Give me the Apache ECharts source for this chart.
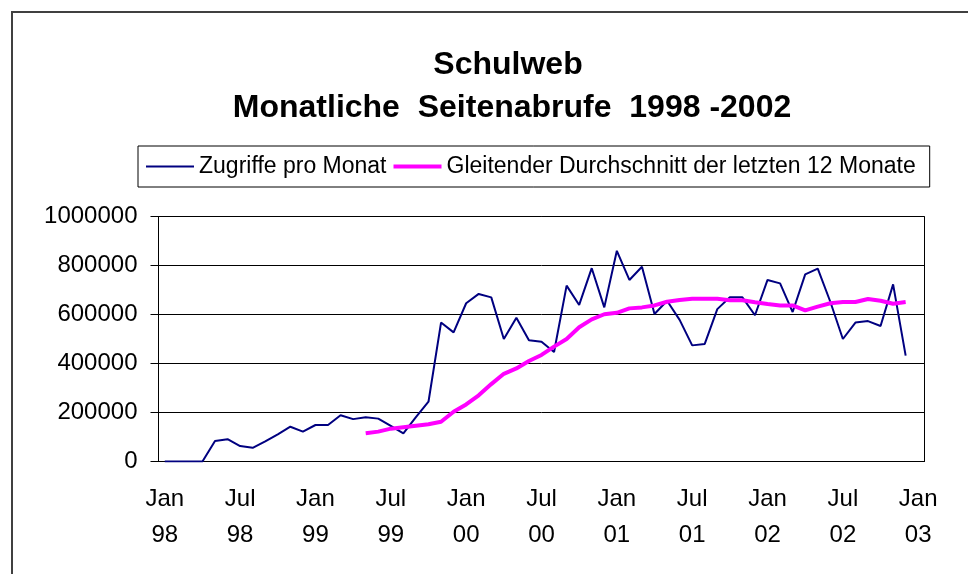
<!DOCTYPE html>
<html>
<head>
<meta charset="utf-8">
<script src="https://cdn.jsdelivr.net/npm/echarts@6/dist/echarts.min.js"></script>
<style>
  html, body { margin: 0; padding: 0; background: #fff; }
  #chart { width: 968px; height: 574px; }
</style>
</head>
<body>
<div id="chart"></div>
<script>
// Monatsnamen und Jahre fuer die Kategorien (Jan 98 .. Jan 03)
var monate = ['Jan', 'Feb', 'Mär', 'Apr', 'Mai', 'Jun', 'Jul', 'Aug', 'Sep', 'Okt', 'Nov', 'Dez'];
var jahre = ['98', '99', '00', '01', '02', '03'];

// Zugriffe pro Monat, Jan 98 .. Dez 02
var zugriffe = [
  0, 0, 0, 0, 84000, 91000, 63000, 56000, 82000, 111000, 142000, 122000,
  149000, 149000, 189000, 173000, 181000, 175000, 145000, 115000, 181000, 244000, 567000, 527000,
  646000, 684000, 670000, 500000, 587000, 495000, 489000, 447000, 718000, 639000, 789000, 629000,
  860000, 741000, 795000, 602000, 656000, 578000, 474000, 480000, 622000, 670000, 670000, 597000,
  741000, 727000, 610000, 764000, 787000, 652000, 500000, 567000, 573000, 553000, 723000, 432000
];

// Gleitender Durchschnitt der letzten 12 Monate
var durchschnitt = [
  null, null, null, null, null, null, null, null, null, null, null, null,
  null, null, null, null, 115000, 122000, 134000, 140000, 146000, 152000, 162000, 203000,
  233000, 270000, 316000, 358000, 380000, 410000, 435000, 469000, 500000, 548000, 580000, 601000,
  607000, 625000, 629000, 637000, 652000, 659000, 664000, 664000, 664000, 658000, 658000, 650000,
  643000, 637000, 637000, 617000, 632000, 646000, 651000, 651000, 663000, 656000, 644000, 651000
];

var kategorien = [];
jahre.forEach(function (j) {
  monate.forEach(function (m) {
    if (kategorien.length < 61) kategorien.push(m + '\n' + j);
  });
});

var schrift = '"Liberation Sans", Arial, sans-serif';

var myChart = echarts.init(document.getElementById('chart'));
var option = {
  backgroundColor: '#fff',
  animation: false,
  graphic: [
    {
      type: 'rect',
      shape: { x: 12, y: 12, width: 1000, height: 1000 },
      style: { fill: 'none', stroke: '#404040', lineWidth: 2 }
    },
    {
      type: 'text',
      x: 508, y: 65,
      style: {
        text: 'Schulweb',
        font: 'bold 32px ' + schrift,
        fill: '#000',
        textAlign: 'center',
        textVerticalAlign: 'middle'
      }
    },
    {
      type: 'text',
      x: 512, y: 108,
      style: {
        text: 'Monatliche  Seitenabrufe  1998 -2002',
        font: 'bold 32px ' + schrift,
        fill: '#000',
        textAlign: 'center',
        textVerticalAlign: 'middle'
      }
    }
  ],
  legend: {
    left: 138,
    top: 146,
    padding: [9, 14, 9, 8],
    itemWidth: 48,
    itemHeight: 14,
    itemGap: 7,
    borderColor: '#000',
    borderWidth: 1,
    textStyle: { fontFamily: schrift, fontSize: 23, color: '#000' },
    data: [
      { name: 'Zugriffe pro Monat', icon: 'path://M0,0L48,0L48,2L0,2Z' },
      { name: 'Gleitender Durchschnitt der letzten 12 Monate', icon: 'path://M0,0L48,0L48,4L0,4Z' }
    ]
  },
  grid: {
    left: 158.5,
    right: 43.5,
    top: 216.5,
    bottom: 112.5,
    show: true,
    borderColor: '#000',
    borderWidth: 1,
    containLabel: false
  },
  xAxis: {
    type: 'category',
    data: kategorien,
    boundaryGap: true,
    axisLine: { lineStyle: { color: '#000', width: 1 } },
    axisTick: { interval: 5, length: 7, lineStyle: { color: '#000' } },
    axisLabel: {
      interval: 5,
      margin: 20,
      fontFamily: schrift,
      fontSize: 24,
      lineHeight: 36,
      color: '#000'
    },
    splitLine: { show: false }
  },
  yAxis: {
    type: 'value',
    min: 0,
    max: 1000000,
    interval: 200000,
    axisLine: { show: true, lineStyle: { color: '#000', width: 1 } },
    axisTick: { show: true, length: 8, lineStyle: { color: '#000' } },
    axisLabel: {
      margin: 21,
      fontFamily: schrift,
      fontSize: 24,
      color: '#000',
      formatter: function (v) { return String(v); }
    },
    splitLine: { lineStyle: { color: '#000', width: 1 } }
  },
  series: [
    {
      name: 'Zugriffe pro Monat',
      type: 'line',
      data: zugriffe,
      symbol: 'none',
      lineStyle: { color: '#000080', width: 2 },
      itemStyle: { color: '#000080' }
    },
    {
      name: 'Gleitender Durchschnitt der letzten 12 Monate',
      type: 'line',
      data: durchschnitt,
      symbol: 'none',
      connectNulls: false,
      lineStyle: { color: '#ff00ff', width: 4 },
      itemStyle: { color: '#ff00ff' }
    }
  ]
};
myChart.setOption(option);
</script>
</body>
</html>
